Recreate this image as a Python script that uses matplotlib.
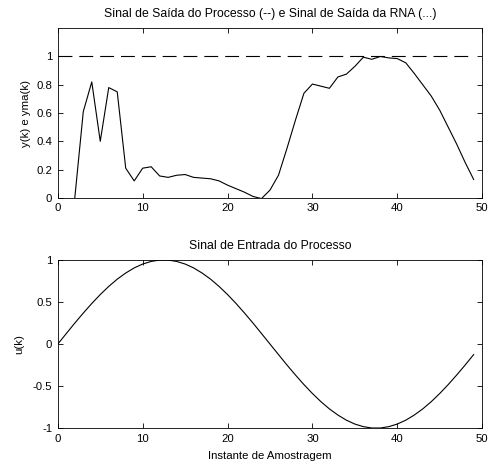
"""Saída do processo / RNA e sinal de entrada ao longo das amostras."""
import matplotlib
matplotlib.use("Agg")
import matplotlib.pyplot as plt

# instantes de amostragem
k = list(range(50))

# saída do processo (referência constante)
y_proc = [1.0] * 50

# saída da RNA, a partir de k = 2
k_rna = list(range(2, 50))
y_rna = [0.0, 0.61, 0.82, 0.40, 0.78, 0.75, 0.21, 0.12, 0.21, 0.22,
         0.155, 0.145, 0.16, 0.165, 0.145, 0.14, 0.135, 0.12, 0.09, 0.065,
         0.04, 0.01, -0.005, 0.055, 0.16, 0.35, 0.55, 0.74, 0.805, 0.79,
         0.775, 0.855, 0.875, 0.93, 0.995, 0.98, 1.0, 0.99, 0.985, 0.955,
         0.88, 0.80, 0.72, 0.62, 0.50, 0.38, 0.25, 0.13]

# sinal de entrada
u = [0.0, 0.125, 0.249, 0.368, 0.482, 0.588, 0.685, 0.771, 0.844, 0.905,
     0.951, 0.982, 0.998, 0.998, 0.982, 0.951, 0.905, 0.844, 0.771, 0.685,
     0.588, 0.482, 0.368, 0.249, 0.125, 0.0, -0.125, -0.249, -0.368, -0.482,
     -0.588, -0.685, -0.771, -0.844, -0.905, -0.951, -0.982, -0.998, -0.998, -0.982,
     -0.951, -0.905, -0.844, -0.771, -0.685, -0.588, -0.482, -0.368, -0.249, -0.125]

plt.rcParams['font.family'] = ['Liberation Sans', 'DejaVu Sans']
plt.rcParams['font.size'] = 8.2
plt.rcParams['lines.scale_dashes'] = False


def estilo_eixo(ax):
    ax.tick_params(direction='in', top=True, right=True, length=3.5,
                   width=0.6, pad=4, labelsize=8.2)
    for s in ax.spines.values():
        s.set_linewidth(0.6)


fig = plt.figure(figsize=(4.9, 4.7), dpi=100)

ax1 = fig.add_axes([0.118, 0.579, 0.866, 0.361])
ax1.plot(k, y_proc, color='black', linewidth=0.8, dashes=(10, 5))
ax1.plot(k_rna, y_rna, color='black', linewidth=0.8)
ax1.set_xlim(0, 50)
ax1.set_ylim(0, 1.2)
ax1.set_xticks([0, 10, 20, 30, 40, 50])
ax1.set_yticks([0, 0.2, 0.4, 0.6, 0.8, 1])
ax1.set_yticklabels(['0', '0.2', '0.4', '0.6', '0.8', '1'])
ax1.set_ylabel('y(k) e yma(k)', labelpad=4)
ax1.set_title('Sinal de Saída do Processo (--) e Sinal de Saída da RNA (...)',
              fontsize=8.8, pad=8)
estilo_eixo(ax1)

ax2 = fig.add_axes([0.118, 0.089, 0.866, 0.358])
ax2.plot(k, u, color='black', linewidth=0.8)
ax2.set_xlim(0, 50)
ax2.set_ylim(-1, 1)
ax2.set_xticks([0, 10, 20, 30, 40, 50])
ax2.set_yticks([-1, -0.5, 0, 0.5, 1])
ax2.set_yticklabels(['-1', '-0.5', '0', '0.5', '1'])
ax2.set_ylabel('u(k)', labelpad=6)
ax2.set_xlabel('Instante de Amostragem', labelpad=5)
ax2.set_title('Sinal de Entrada do Processo', fontsize=8.8, pad=8)
estilo_eixo(ax2)

fig.savefig('out.png', dpi=100, facecolor='white')
